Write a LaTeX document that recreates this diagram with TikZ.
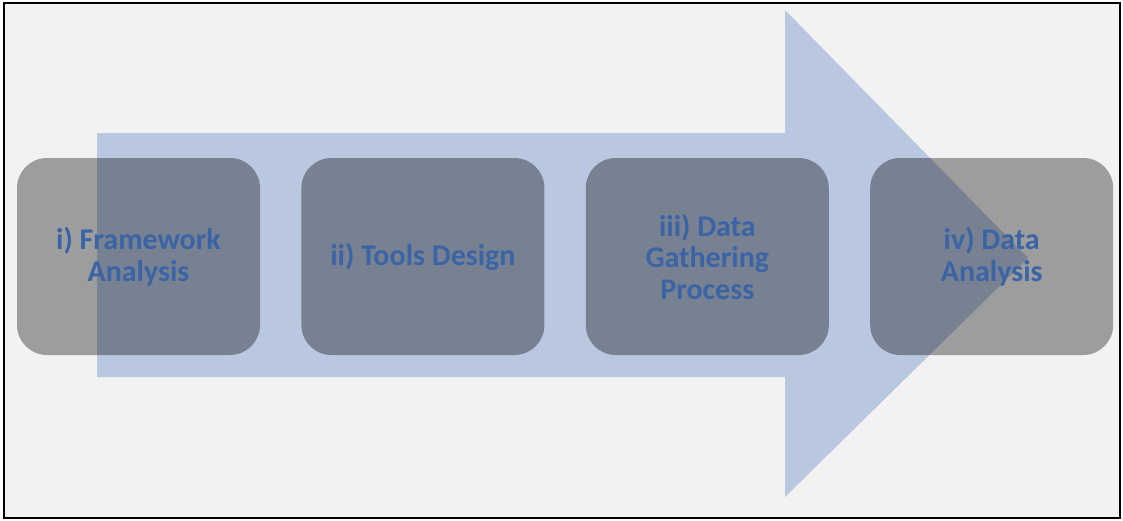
\documentclass[tikz,border=0pt]{standalone}
\usepackage{fontspec}
\setmainfont{Carlito}
\usetikzlibrary{positioning}
\usepackage{xcolor}
\definecolor{bgGrey}{HTML}{F2F2F2}
\definecolor{arrowBlue}{HTML}{B9C7E0}
\definecolor{textBlue}{HTML}{3A64A6}

\begin{document}
\begin{tikzpicture}[x=1pt,y=-1pt]
        \tikzstyle{stage} = [rectangle, rounded corners=30pt, fill=black, fill opacity=0.35, text opacity=1, text=textBlue, minimum width=243pt, minimum height=197pt, align=center, font=\fontsize{30}{31.5}\selectfont\bfseries]

        \useasboundingbox (0,0) rectangle (1123,520);
        \draw[line width=1.5pt, fill=bgGrey] (4,3) rectangle (1120,518);

        % big process arrow
        \fill[arrowBlue] (97,133) -- (785,133) -- (785,10) -- (1028,258) -- (785,497) -- (785,377) -- (97,377) -- cycle;

        \node[stage] (framework) at (138.5,256.5) {i) Framework\\Analysis};
        \node[stage, right=41pt of framework] (tools) {ii) Tools Design};
        \node[stage, right=41pt of tools] (gathering) {iii) Data\\Gathering\\Process};
        \node[stage, right=41pt of gathering] (analysis) {iv) Data\\Analysis};
      \end{tikzpicture}
\end{document}
